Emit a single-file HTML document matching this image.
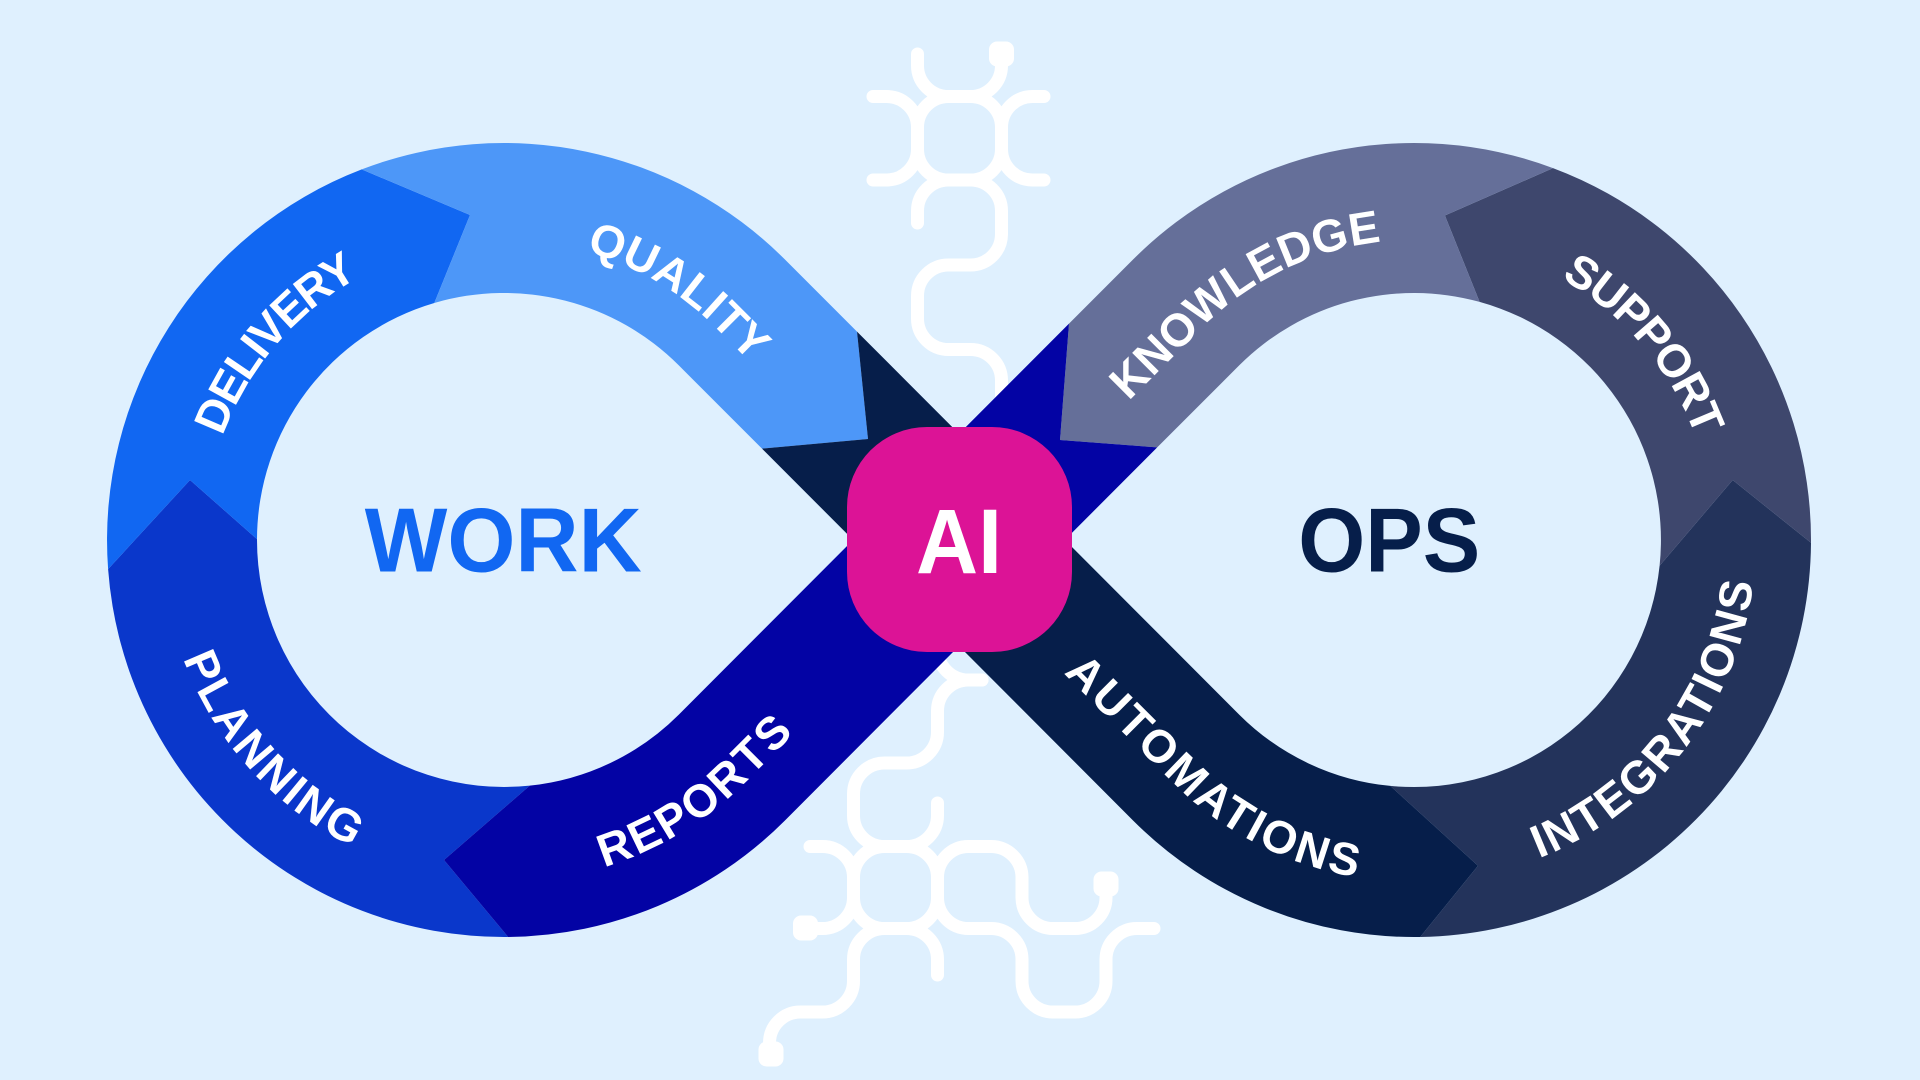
<!DOCTYPE html>
<html>
<head>
<meta charset="utf-8">
<style>
html,body{margin:0;padding:0;background:#DFF0FE;width:1920px;height:1080px;overflow:hidden}
svg{display:block}
.lbl{font-family:"Liberation Sans",Arial,sans-serif;font-weight:700;font-size:46px;fill:#ffffff}
.big{font-family:"Liberation Sans",Arial,sans-serif;font-weight:700;font-size:91px}
</style>
</head>
<body>
<svg width="1920" height="1080" viewBox="0 0 1920 1080" xmlns="http://www.w3.org/2000/svg">
<rect x="0" y="0" width="1920" height="1080" fill="#DFF0FE"/>
<defs>
  <path id="tp-delivery" d="M 204 540 A 300 300 0 0 1 504 240"/>
  <path id="tp-quality" d="M 311.2 310.2 A 300 300 0 0 1 716.1 327.9 L 866.1 477.9"/>
  <path id="tp-planning" d="M 162 540 A 342 342 0 0 0 504 882"/>
  <path id="tp-reports" d="M 444.6 876.8 A 342 342 0 0 0 745.8 781.8 L 895.8 631.8"/>
  <path id="tp-knowledge" d="M 1051.9 477.9 L 1201.9 327.9 A 300 300 0 0 1 1564 280.2"/>
  <path id="tp-support" d="M 1414 240 A 300 300 0 0 1 1714 540"/>
  <path id="tp-integrations" d="M 1414 882 A 342 342 0 0 0 1756 540"/>
  <path id="tp-automations" d="M 872.2 481.8 L 1172.2 781.8 A 342 342 0 0 0 1531 861.4"/>
</defs>

<!-- circuits -->
<g fill="none" stroke="#ffffff" stroke-width="13" stroke-linecap="round" stroke-linejoin="round">
  <!-- top circuit -->
  <rect x="917.5" y="96.5" width="84" height="83.5" rx="31"/>
  <path d="M 917.5 54 L 917.5 65.5 A 31 31 0 0 0 948.5 96.5"/>
  <path d="M 1001.5 58 L 1001.5 65.5 A 31 31 0 0 1 970.5 96.5"/>
  <path d="M 873 96.5 L 886.5 96.5 A 31 31 0 0 1 917.5 127.5"/>
  <path d="M 873 180 L 886.5 180 A 31 31 0 0 0 917.5 149"/>
  <path d="M 1044 96.5 L 1032.5 96.5 A 31 31 0 0 0 1001.5 127.5"/>
  <path d="M 1044 180 L 1032.5 180 A 31 31 0 0 1 1001.5 149"/>
  <path d="M 917.5 223 L 917.5 211 A 31 31 0 0 1 948.5 180"/>
  <path d="M 970.5 180 A 31 31 0 0 1 1001.5 211 L 1001.5 234 A 31 31 0 0 1 970.5 265 L 948.5 265 A 31 31 0 0 0 917.5 296 L 917.5 318.5 A 31 31 0 0 0 948.5 349.5 L 970.5 349.5 A 31 31 0 0 1 1001.5 380.5 L 1001.5 460"/>

  <!-- bottom circuit -->
  <path d="M 937.5 620 L 937.5 649 A 31 31 0 0 0 968.5 680 L 982 680"/>
  <path d="M 982 680 L 968.5 680 A 31 31 0 0 0 937.5 711 L 937.5 732 A 31 31 0 0 1 906.5 763 L 884.5 763 A 31 31 0 0 0 853.5 794 L 853.5 815.5 A 31 31 0 0 0 884.5 846.5"/>
  <rect x="853.5" y="846.5" width="84" height="82" rx="31"/>
  <path d="M 937.5 803 L 937.5 815.5 A 31 31 0 0 1 906.5 846.5"/>
  <path d="M 810 846.5 L 822.5 846.5 A 31 31 0 0 1 853.5 877.5"/>
  <path d="M 810 928.5 L 822.5 928.5 A 31 31 0 0 0 853.5 897.5"/>
  <path d="M 937.5 877.5 A 31 31 0 0 1 968.5 846.5 L 991 846.5 A 31 31 0 0 1 1022 877.5 L 1022 897.5 A 31 31 0 0 0 1053 928.5 L 1075 928.5 A 31 31 0 0 0 1106 897.5 L 1106 884"/>
  <path d="M 937.5 897.5 A 31 31 0 0 0 968.5 928.5 L 991 928.5 A 31 31 0 0 1 1022 959.5 L 1022 981 A 31 31 0 0 0 1053 1012 L 1075 1012 A 31 31 0 0 0 1106 981 L 1106 959.5 A 31 31 0 0 1 1137 928.5 L 1154 928.5"/>
  <path d="M 937.5 975 L 937.5 959.5 A 31 31 0 0 0 906.5 928.5"/>
  <path d="M 884.5 928.5 A 31 31 0 0 0 853.5 959.5 L 853.5 981 A 31 31 0 0 1 822.5 1012 L 800.5 1012 A 31 31 0 0 0 769.5 1043 L 769.5 1054"/>
</g>
<g fill="#ffffff">
  <rect x="989" y="41.5" width="25" height="25" rx="8"/>
  <rect x="793" y="915.5" width="25" height="25" rx="8"/>
  <rect x="1093.5" y="871.5" width="25" height="25" rx="8"/>
  <rect x="758.5" y="1041.5" width="25" height="25" rx="8"/>
</g>

<!-- loop segments -->
<path fill="#0A37CB" d="M 444 860 L 508.2 937 A 397 397 0 0 1 108.1 569.1 L 190 480 L 257 539.1 A 247 247 0 0 0 529.8 785.6 Z"/>
<path fill="#1167F2" d="M 190 480 L 108.1 569.1 A 397 397 0 0 1 361.7 169.4 L 470 215 L 434.3 303 A 247 247 0 0 0 257 539.1 Z"/>
<path fill="#4D97F8" d="M 470 215 L 361.7 169.4 A 397 397 0 0 1 784.7 259.3 L 857 331.6 L 868 439 L 762 448.6 L 678.7 365.3 A 247 247 0 0 0 434.3 303 Z"/>
<path fill="#23335B" d="M 1478 865.7 L 1390.3 785.9 A 247 247 0 0 0 1659.6 565.8 L 1732.7 480 L 1811 542.8 A 397 397 0 0 1 1420.2 937 Z"/>
<path fill="#3E476D" d="M 1732.7 480 L 1811 542.8 A 397 397 0 0 0 1553 168.1 L 1444.9 215.5 L 1479.6 301.9 A 247 247 0 0 1 1659.6 565.8 Z"/>
<path fill="#656F99" d="M 1444.9 215.5 L 1553 168.1 A 397 397 0 0 0 1133.3 259.3 L 1069 323.6 L 1060 440 L 1157.2 447.4 L 1239.3 365.3 A 247 247 0 0 1 1479.6 301.9 Z"/>
<path fill="#0303A4" d="M 1060 440 L 1069 323.6 L 678.7 714.7 A 247 247 0 0 1 529.8 785.6 L 444 860 L 508.2 937 A 397 397 0 0 0 784.7 820.7 L 1157.2 447.4 Z"/>
<path fill="#061E4A" d="M 868 439 L 857 331.6 L 1239.3 714.7 A 247 247 0 0 0 1390.3 785.9 L 1478 865.7 L 1420.2 937 A 397 397 0 0 1 1133.3 820.7 L 762 448.6 Z"/>

<!-- AI box -->
<rect x="847" y="427" width="225" height="225" rx="80" fill="#DC1396"/>
<text x="959" y="573" text-anchor="middle" font-family="Liberation Sans, Arial, sans-serif" font-weight="700" font-size="92" fill="#ffffff" textLength="86" lengthAdjust="spacingAndGlyphs">AI</text>

<!-- big labels -->
<text class="big" x="503.3" y="571.7" text-anchor="middle" fill="#1167F2" textLength="277" lengthAdjust="spacingAndGlyphs">WORK</text>
<text class="big" x="1389.2" y="571.7" text-anchor="middle" fill="#061E4A" textLength="182" lengthAdjust="spacingAndGlyphs">OPS</text>

<!-- ring labels -->
<text class="lbl" style="letter-spacing:-2px"><textPath href="#tp-delivery" startOffset="212" text-anchor="middle">DELIVERY</textPath></text>
<text class="lbl" style="letter-spacing:0px"><textPath href="#tp-quality" startOffset="393" text-anchor="middle">QUALITY</textPath></text>
<text class="lbl" style="letter-spacing:2.7px"><textPath href="#tp-planning" startOffset="252" text-anchor="middle">PLANNING</textPath></text>
<text class="lbl" style="letter-spacing:2.2px"><textPath href="#tp-reports" startOffset="280" text-anchor="middle">REPORTS</textPath></text>
<text class="lbl" style="letter-spacing:0.3px"><textPath href="#tp-knowledge" startOffset="262" text-anchor="middle">KNOWLEDGE</textPath></text>
<text class="lbl" style="letter-spacing:-1.6px"><textPath href="#tp-support" startOffset="259" text-anchor="middle">SUPPORT</textPath></text>
<text class="lbl" style="letter-spacing:2px"><textPath href="#tp-integrations" startOffset="312" text-anchor="middle">INTEGRATIONS</textPath></text>
<text class="lbl" style="letter-spacing:2.6px"><textPath href="#tp-automations" startOffset="454" text-anchor="middle">AUTOMATIONS</textPath></text>
</svg>
</body>
</html>
